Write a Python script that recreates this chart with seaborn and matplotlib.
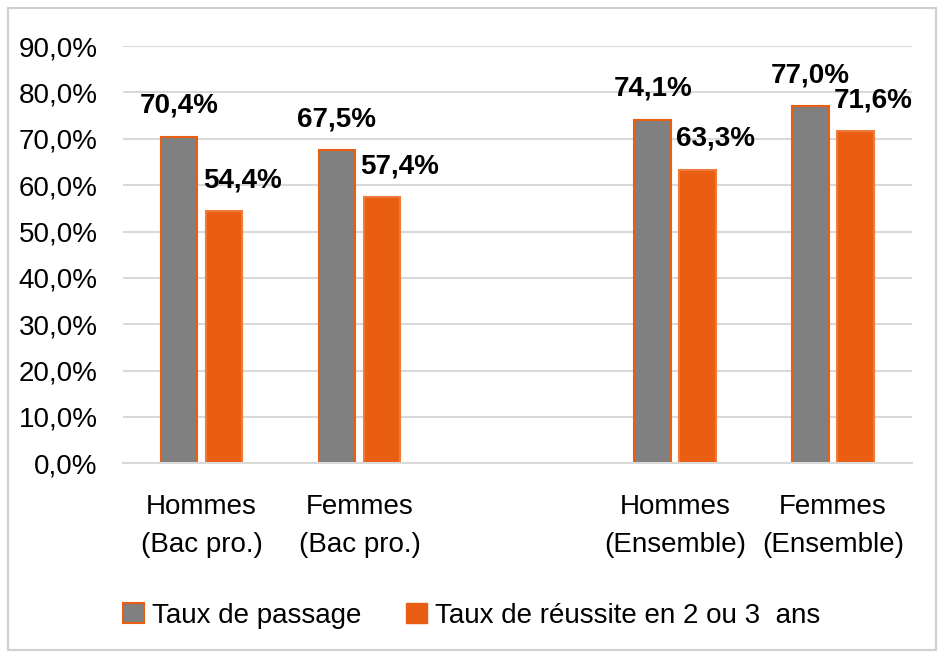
import seaborn as sns
import matplotlib.pyplot as plt
import matplotlib.patches as mpatches
from matplotlib import font_manager
from matplotlib.ticker import FuncFormatter, MultipleLocator
import pandas as pd

# data
categories = ["Hommes\n(Bac pro.)", "Femmes\n(Bac pro.)", " ", "Hommes\n(Ensemble)", "Femmes\n(Ensemble)"]
cats_with_data = ["Hommes\n(Bac pro.)", "Femmes\n(Bac pro.)", "Hommes\n(Ensemble)", "Femmes\n(Ensemble)"]
taux_passage = [70.4, 67.5, 74.1, 77.0]
taux_reussite = [54.4, 57.4, 63.3, 71.6]
series = ["Taux de passage", "Taux de réussite en 2 ou 3  ans"]

df = pd.DataFrame({
    "cat": cats_with_data * 2,
    "serie": [series[0]] * 4 + [series[1]] * 4,
    "val": taux_passage + taux_reussite,
})

gray = "#808080"
orange = "#E95E12"

names = {f.name for f in font_manager.fontManager.ttflist}
font = "Liberation Sans Narrow" if "Liberation Sans Narrow" in names else "Liberation Sans"

sns.set_theme(style="white")
plt.rcParams["font.family"] = [font, "DejaVu Sans"]
plt.rcParams["text.color"] = "black"
plt.rcParams["xtick.color"] = "black"
plt.rcParams["ytick.color"] = "black"

fig = plt.figure(figsize=(9.44, 6.59), dpi=100)
ax = fig.add_axes([0.130, 0.297, 0.836, 0.633])

sns.barplot(data=df, x="cat", y="val", hue="serie", order=categories,
            hue_order=series, palette=[gray, orange], saturation=1,
            width=0.57, gap=0.19, ax=ax, legend=False)

# edges
for c, ec in zip(ax.containers, [orange, "#F07A3A"]):
    for b in c:
        b.set_edgecolor(ec)
        b.set_linewidth(1.5)

# data labels
for i, c in enumerate(ax.containers):
    vals = taux_passage if i == 0 else taux_reussite
    anns = ax.bar_label(c, labels=[f"{v:.1f}%".replace(".", ",") for v in vals],
                        fontsize=20, fontweight="bold", padding=13, color="black")
    if i == 1:
        for a in anns:
            a.xyann = (13, 13)

ax.set_ylim(0, 90)
ax.yaxis.set_major_locator(MultipleLocator(10))
ax.yaxis.set_major_formatter(FuncFormatter(lambda v, p: f"{v:.1f}%".replace(".", ",")))
ax.grid(axis="y", color="#d9d9d9", linewidth=1.5)
ax.set_axisbelow(True)
for s in ["left", "right", "top"]:
    ax.spines[s].set_visible(False)
ax.spines["bottom"].set_color("#d9d9d9")
ax.spines["bottom"].set_linewidth(1.5)
ax.set_xlabel("")
ax.set_ylabel("")
ax.tick_params(axis="y", labelsize=20, length=0, pad=18)
ax.tick_params(axis="x", labelsize=20, length=0, pad=22)
for t in ax.get_xticklabels():
    t.set_linespacing(1.6)

handles = [mpatches.Patch(facecolor=gray, edgecolor=orange, linewidth=1.5, label=series[0]),
           mpatches.Patch(facecolor=orange, edgecolor=orange, label=series[1])]
fig.legend(handles=handles, loc="center", bbox_to_anchor=(0.5, 0.066), ncol=2,
           frameon=False, fontsize=20, handlelength=0.75, handleheight=0.75,
           handletextpad=0.3, columnspacing=1.6)

fig.patches.append(mpatches.Rectangle((0.009, 0.013), 0.983, 0.975, transform=fig.transFigure,
                                      fill=False, edgecolor="#d0d0d0", linewidth=1.5))

fig.savefig("out.png", dpi=100)
